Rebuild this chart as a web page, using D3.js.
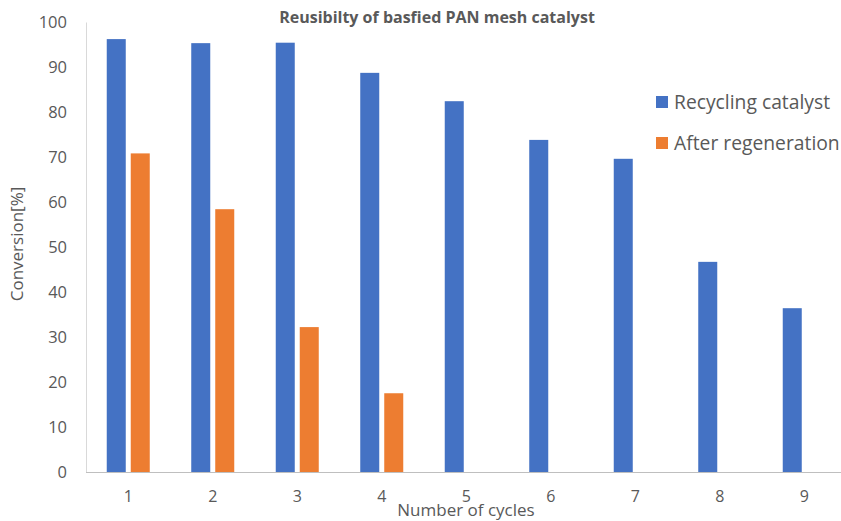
<!DOCTYPE html>
<html>
<head>
<meta charset="utf-8">
<script src="https://cdn.jsdelivr.net/npm/d3@7"></script>
<style>
  body { margin: 0; background: #fff; }
  text { font-family: "Open Sans", "Noto Sans", sans-serif; fill: #595959; }
</style>
</head>
<body>
<script>
var cycles     = ["1", "2", "3", "4", "5", "6", "7", "8", "9"];
var recycling  = [96.2, 95.3, 95.4, 88.7, 82.4, 73.8, 69.6, 46.7, 36.4];
var regenerate = [70.8, 58.4, 32.2, 17.5, null, null, null, null, null];
var series_names = ["Recycling catalyst", "After regeneration"];
var colors = ["#4472C4", "#ED7D31"];
var y_ticks = [0, 10, 20, 30, 40, 50, 60, 70, 80, 90, 100];

var width = 841, height = 521;

var svg = d3.select("body").append("svg")
            .attr("width", width)
            .attr("height", height);

var x0 = d3.scaleBand()
           .domain(cycles)
           .range([86, 846.5])
           .paddingInner(0.491)
           .paddingOuter(0.2455);

var x1 = d3.scaleBand()
           .domain([0, 1])
           .range([0, x0.bandwidth()])
           .paddingInner(0.208);

var y = d3.scaleLinear().domain([0, 100]).range([472, 22]);

// axes
var yAxis = svg.append("g")
               .attr("transform", "translate(86,0)")
               .call(d3.axisLeft(y).tickValues(y_ticks).tickSize(0).tickPadding(19));
yAxis.select(".domain").attr("stroke", "#d9d9d9");
yAxis.selectAll("text").style("font-size", "16.5px").attr("dy", "0.35em");

var xAxis = svg.append("g")
               .attr("transform", "translate(0,472)")
               .call(d3.axisBottom(x0).tickSize(0).tickPadding(19));
xAxis.select(".domain").attr("stroke", "#bfbfbf").attr("d", "M86,0.5H841");
xAxis.selectAll("text").style("font-size", "16px");

// bars
var rows = cycles.map(function(c, i) { return { c: c, v: [recycling[i], regenerate[i]] }; });

var groups = svg.selectAll("g.cycle")
                .data(rows)
                .enter()
                .append("g")
                .attr("class", "cycle")
                .attr("transform", function(d) { return "translate(" + x0(d.c) + ",0)"; });

groups.selectAll("rect")
      .data(function(d) { return d.v.map(function(v, k) { return { k: k, v: v }; }).filter(function(e) { return e.v != null; }); })
      .enter()
      .append("rect")
      .attr("x", function(d) { return x1(d.k); })
      .attr("width", x1.bandwidth())
      .attr("y", function(d) { return y(d.v); })
      .attr("height", function(d) { return y(0) - y(d.v); })
      .style("fill", function(d) { return colors[d.k]; });

// title
svg.append("text")
   .attr("x", 437).attr("y", 23)
   .attr("text-anchor", "middle")
   .style("font-size", "16px")
   .style("font-weight", "bold")
   .text("Reusibilty of basfied PAN mesh catalyst");

// axis titles
svg.append("text")
   .attr("x", 466).attr("y", 516)
   .attr("text-anchor", "middle")
   .style("font-size", "17px")
   .text("Number of cycles");

svg.append("text")
   .attr("transform", "translate(23,244) rotate(-90)")
   .attr("text-anchor", "middle")
   .style("font-size", "17px")
   .text("Conversion[%]");

// legend
var legend = svg.selectAll("g.legend")
                .data(series_names)
                .enter()
                .append("g")
                .attr("class", "legend")
                .attr("transform", function(d, i) { return "translate(656," + (96 + i * 41) + ")"; });

legend.append("rect")
      .attr("width", 12).attr("height", 12)
      .style("fill", function(d, i) { return colors[i]; });

legend.append("text")
      .attr("x", 18).attr("y", 12.5)
      .style("font-size", "19.3px")
      .text(function(d) { return d; });
</script>
</body>
</html>
